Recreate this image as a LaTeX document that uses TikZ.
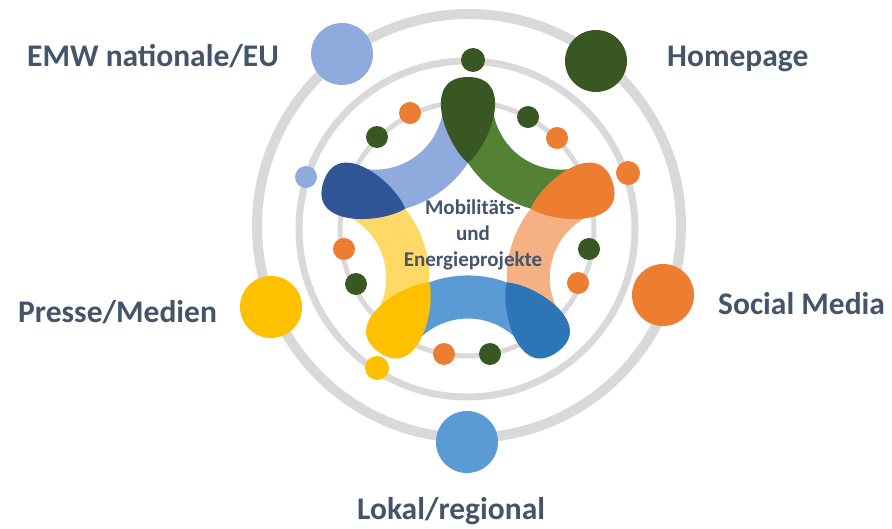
\documentclass[tikz,border=0pt]{standalone}
\usepackage{fontspec}
\setmainfont{Carlito}
\definecolor{ringc}{HTML}{D9D9D9}
\definecolor{txt}{HTML}{44546A}
\definecolor{gband}{HTML}{548235}
\definecolor{ghead}{HTML}{385723}
\definecolor{lbband}{HTML}{8FAADC}
\definecolor{lbhead}{HTML}{2F5597}
\definecolor{yband}{HTML}{FFD966}
\definecolor{yhead}{HTML}{FFC000}
\definecolor{bband}{HTML}{5B9BD5}
\definecolor{bhead}{HTML}{2E75B6}
\definecolor{pband}{HTML}{F4B183}
\definecolor{phead}{HTML}{ED7D31}
\begin{document}
\begin{tikzpicture}[x=1pt,y=1pt,
  bubble/.style={circle, draw=none, inner sep=0pt, minimum size=#1},
  lbl/.style={anchor=base west, text=txt, inner sep=0pt, font=\bfseries\fontsize{31.5}{36}\selectfont},
  ctr/.style={anchor=base, text=txt, inner sep=0pt, font=\bfseries\fontsize{21}{25}\selectfont},
  ringline/.style={draw=ringc}]
\useasboundingbox (0,0) rectangle (892,528);
% rings
\draw[ringline, line width=10pt] (469,302) circle[radius=212];
\draw[ringline, line width=7pt] (467,299) circle[radius=168];
\draw[ringline, line width=5pt] (467,299) circle[radius=127];
% bands
\foreach \r/\c in {0/gband,72/lbband,144/yband,216/bband,288/pband}{
  \begin{scope}[shift={(468,299)}, rotate=\r]
    \fill[\c] (54:158) ++(283:68.5) arc[start angle=283,end angle=185,radius=68.5]
      -- (0,66) arc[start angle=213.66,end angle=254.34,radius=111.57] -- cycle;
  \end{scope}
}
% heads
\foreach \r/\c in {0/ghead,72/lbhead,144/yhead,216/bhead,288/phead}{
  \begin{scope}[shift={(468,299)}, rotate=\r]
    \fill[\c] (0,66) .. controls (-22,84) and (-48,152) .. (0,152)
      .. controls (48,152) and (22,84) .. (0,66) -- cycle;
  \end{scope}
}
% big circles
\node[bubble=62pt, fill=lbband] (emw) at (342,474) {};
\node[bubble=62pt, fill=ghead] (home) at (596,467) {};
\node[bubble=62pt, fill=phead] (social) at (663,233) {};
\node[bubble=62pt, fill=yhead] (presse) at (271,221) {};
\node[bubble=62pt, fill=bband] (lokal) at (467,86) {};
% small circles on middle ring
\node[bubble=24pt, fill=ghead] (m1) at (473,468) {};
\node[bubble=22pt, fill=lbband] (m2) at (306,351) {};
\node[bubble=24pt, fill=phead] (m3) at (628,355) {};
\node[bubble=24pt, fill=yhead] (m4) at (377,160) {};
% small circles on inner ring
\node[bubble=22pt, fill=phead] (i1) at (410,415) {};
\node[bubble=22pt, fill=ghead] (i2) at (377,391) {};
\node[bubble=22pt, fill=ghead] (i3) at (528,411) {};
\node[bubble=22pt, fill=phead] (i4) at (557,390) {};
\node[bubble=22pt, fill=phead] (i5) at (344,279) {};
\node[bubble=22pt, fill=ghead] (i6) at (356,244) {};
\node[bubble=22pt, fill=ghead] (i7) at (589,279) {};
\node[bubble=22pt, fill=phead] (i8) at (578,245) {};
\node[bubble=22pt, fill=phead] (i9) at (444,174) {};
\node[bubble=22pt, fill=ghead] (i10) at (490,174) {};
% center text
\node[ctr] (c1) at (473,313) {Mobilitäts-};
\node[ctr] (c2) at (473,287) {und};
\node[ctr] (c3) at (473,261) {Energieprojekte};
% labels
\node[lbl] (lemw) at (27,461) {EMW nationale/EU};
\node[lbl] (lhome) at (667,461) {Homepage};
\node[lbl] (lpresse) at (18,205) {Presse/Medien};
\node[lbl] (lsocial) at (718,213) {Social Media};
\node[lbl] (llokal) at (357,8.5) {Lokal/regional};
\end{tikzpicture}
\end{document}
